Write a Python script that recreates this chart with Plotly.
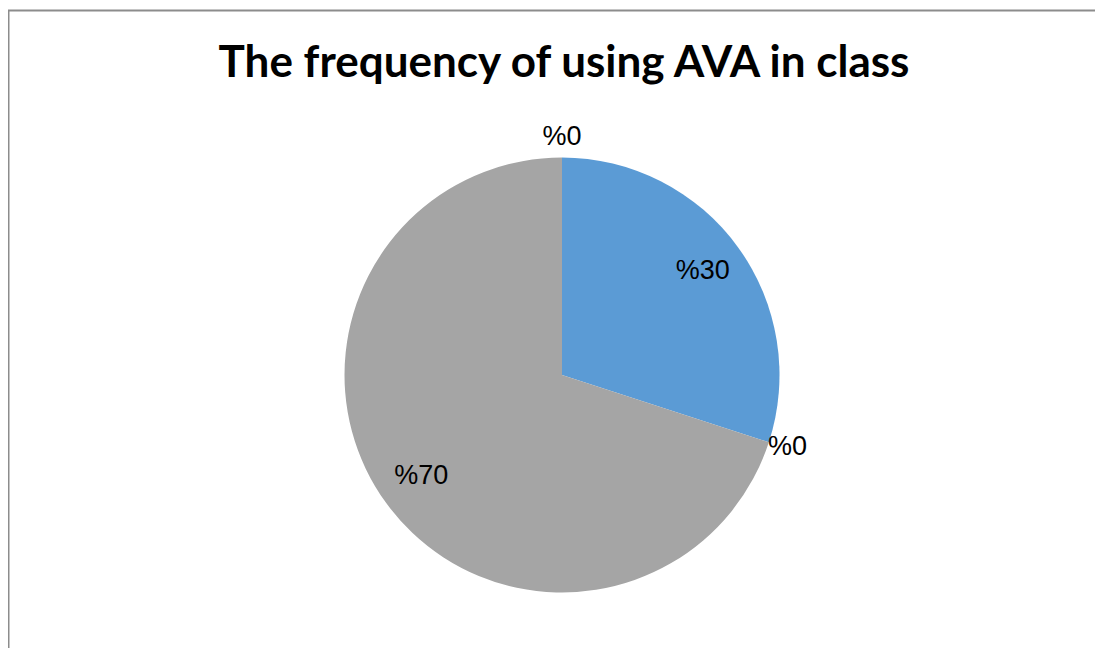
import plotly.graph_objects as go

# Data
categories = ['Always', 'Often', 'Sometimes', 'Never']
values = [30, 0, 70, 0]
colors = ['#5B9BD5', '#ED7D31', '#A5A5A5', '#FFC000']

# page body adds an 8px margin, so figure coords are shifted by 8
W, H = 1103, 648
rmax = 1.15
cx, cy, R = 554, 367, 217.5 * rmax
dom_x = [(cx - R) / W, (cx + R) / W]
dom_y = [(H - cy - R) / H, (H - cy + R) / H]

total = sum(values)
theta, widths, lab_r, txt = [], [], [], []
acc = 0
for v in values:
    theta.append((acc + v / 2) / total * 360)
    widths.append(v / total * 360)
    acc += v
    lab_r.append(0.8 if v > 0 else 1.09)
    txt.append('%' + str(v))

fig = go.Figure()

# pie slices drawn as wedges on a polar axis
fig.add_trace(go.Barpolar(
    r=[1] * len(values), theta=theta, width=widths, base=0,
    marker=dict(color=colors, line=dict(width=0)),
    hovertext=categories, hoverinfo='text', showlegend=False,
))

fig.add_trace(go.Scatterpolar(
    r=lab_r, theta=theta, mode='text', text=txt,
    textfont=dict(family='Liberation Sans, Arial', size=27, color='#000000'),
    hoverinfo='skip', showlegend=False, cliponaxis=False,
))

fig.update_layout(
    width=W, height=H,
    margin=dict(l=0, r=0, t=0, b=0),
    paper_bgcolor='white',
    title=dict(text='<b>The frequency of using AVA in class</b>', x=556 / W, xanchor='center',
               y=1 - 54 / H, yanchor='middle',
               font=dict(family='Lato', size=44, color='#000000')),
    polar=dict(
        domain=dict(x=dom_x, y=dom_y),
        bgcolor='rgba(0,0,0,0)',
        radialaxis=dict(visible=False, range=[0, rmax]),
        angularaxis=dict(visible=False, direction='clockwise', rotation=90),
    ),
    shapes=[
        dict(type='line', xref='paper', yref='paper', x0=0.5 / W, x1=0.5 / W,
             y0=0, y1=1 - 2.5 / H, line=dict(color='#8c8c8c', width=2)),
        dict(type='line', xref='paper', yref='paper', x0=0, x1=1,
             y0=1 - 2.5 / H, y1=1 - 2.5 / H, line=dict(color='#8c8c8c', width=2)),
    ],
)

fig.write_html('out.html')
